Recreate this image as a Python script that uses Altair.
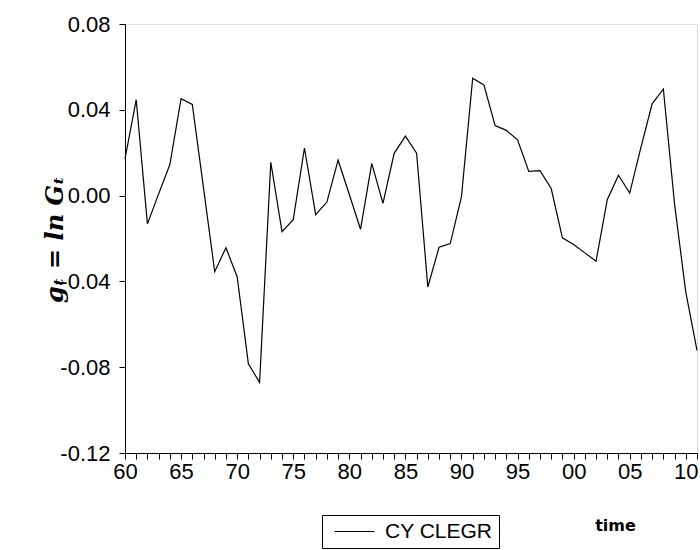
import altair as alt
import pandas as pd

years = list(range(1960, 2012))
values = [
    0.0171, 0.0447, -0.0132, 0.0008, 0.0145, 0.0452, 0.0425, 0.0036, -0.0355, -0.0243,
    -0.0378, -0.0784, -0.0871, 0.0155, -0.0168, -0.0112, 0.0222, -0.0089, -0.0030, 0.0165,
    0.0005, -0.0157, 0.0150, -0.0036, 0.0197, 0.0277, 0.0198, -0.0426, -0.0241, -0.0224,
    -0.0005, 0.0547, 0.0516, 0.0326, 0.0304, 0.0260, 0.0113, 0.0116, 0.0033, -0.0197,
    -0.0228, -0.0267, -0.0306, -0.0019, 0.0095, 0.0012, 0.0225, 0.0428, 0.0497, -0.0040,
    -0.0450, -0.0722,
]
series_name = "CY CLEGR"
y_ticks = [-0.12, -0.08, -0.04, 0.00, 0.04, 0.08]

df = pd.DataFrame({"year": years, "value": values, "series": [series_name] * len(years)})

line = alt.Chart(df).mark_line(strokeWidth=1.2, color="black").encode(
    x=alt.X(
        "year:Q",
        scale=alt.Scale(domain=[1960, 2011], nice=False, zero=False),
        axis=alt.Axis(
            values=years,
            labelExpr="datum.value % 5 == 0 ? substring(toString(datum.value), 2, 4) : ''",
            labelOverlap=False,
            labelFlush=False,
            labelFont="Liberation Sans",
            labelFontSize=22,
            labelColor="black",
            labelPadding=2,
            tickSize=6,
            tickColor="black",
            domainColor="black",
            grid=False,
            title="time",
            titleFont="DejaVu Sans",
            titleFontSize=16,
            titleFontWeight="bold",
            titleColor="black",
            titleX=490,
            titleY=72,
            titleAlign="center",
            titleBaseline="middle",
        ),
    ),
    y=alt.Y(
        "value:Q",
        scale=alt.Scale(domain=[-0.12, 0.08], nice=False, zero=False),
        axis=alt.Axis(
            values=y_ticks,
            labelExpr="datum.value < -0.0001 ? '-' + format(-datum.value, '.2f') : format(datum.value, '.2f')",
            labelFont="Liberation Sans",
            labelFontSize=22,
            labelColor="black",
            labelPadding=9,
            tickSize=6,
            tickColor="black",
            domainColor="black",
            grid=False,
            title="gₜ = ln Gₜ",
            titleFont="DejaVu Serif",
            titleFontSize=24,
            titleFontWeight="bold",
            titleFontStyle="italic",
            titleColor="black",
            titleAngle=270,
            titleX=-70,
            titleY=215,
            titleAlign="center",
            titleBaseline="middle",
        ),
    ),
    color=alt.Color(
        "series:N",
        scale=alt.Scale(range=["black"]),
        legend=alt.Legend(
            orient="none",
            legendX=197,
            legendY=491,
            title=None,
            strokeColor="black",
            padding=6,
            clipHeight=21,
            symbolType="stroke",
            symbolSize=1600,
            symbolStrokeWidth=1,
            symbolOffset=6,
            labelOffset=10,
            labelExpr="datum.label + '\u00a0\u00a0\u00a0'",
            labelFont="Liberation Sans",
            labelFontSize=21,
            labelColor="black",
        ),
    ),
)

chart = line.properties(
    width=572,
    height=429,
    autosize=alt.AutoSizeParams(type="none"),
    padding={"left": 125, "top": 24, "right": 3, "bottom": 97},
).configure_view(stroke="black", strokeWidth=1).configure(background="white")

chart.save("out.html", embed_options={"renderer": "svg", "actions": False})
